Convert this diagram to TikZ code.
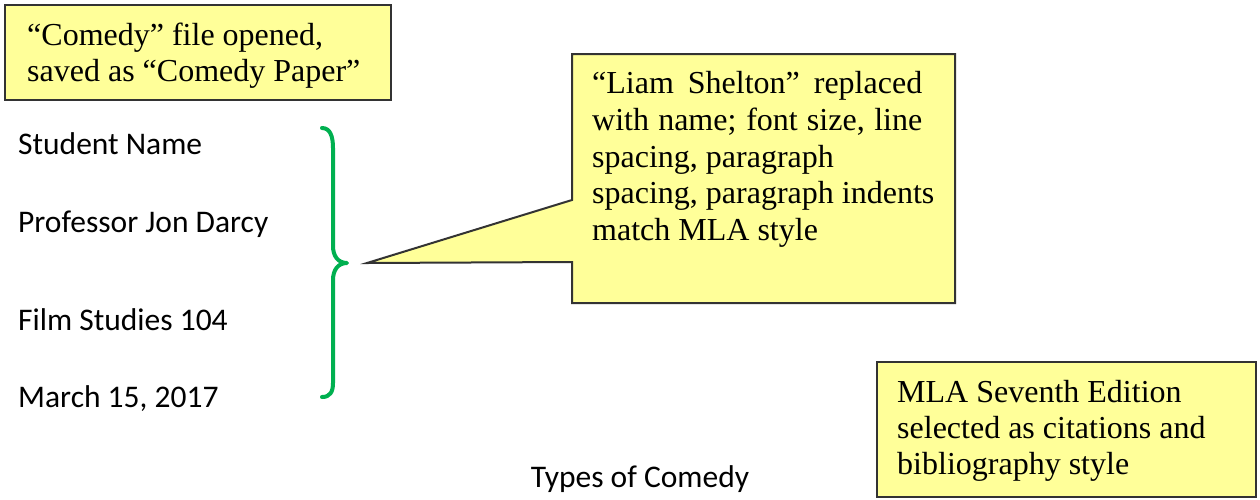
\documentclass[tikz,border=0pt]{standalone}
\usepackage{fontspec}
\setmainfont{Liberation Serif}
\newfontfamily\calib{Carlito}
\definecolor{noteyellow}{HTML}{FFFF99}
\definecolor{bracegreen}{HTML}{00B050}
\begin{document}
\begin{tikzpicture}[x=1pt,y=-1pt,
  notebox/.style={draw=black!80,fill=noteyellow,line width=2pt},
  serifline/.style={font=\fontsize{32}{36}\selectfont,anchor=base west,inner sep=0pt},
  sansline/.style={font=\calib\fontsize{31.5}{36}\selectfont,anchor=base west,inner sep=0pt}]
\useasboundingbox (0,0) rectangle (1260,499);
\fill[white] (0,0) rectangle (1260,499);

% box 1
\node[notebox,minimum width=386pt,minimum height=95pt,inner sep=0pt] (box1) at (198,52.5) {};
\node[serifline] (b1l1) at (27,45.5) {“Comedy” file opened,};
\node[serifline] (b1l2) at (27,81) {saved as “Comedy Paper”};

% left texts
\node[sansline] (name) at (18,154) {Student Name};
\node[sansline] (prof) at (18,232) {Professor Jon Darcy};
\node[sansline] (film) at (18,330) {Film Studies 104};
\node[sansline] (date) at (18,407) {March 15, 2017};
\node[font=\calib\fontsize{31.5}{36}\selectfont,anchor=base,inner sep=0pt] (title) at (640,487) {Types of Comedy};

% brace
\coordinate (bracetop) at (322,128);
\coordinate (bracetip) at (347,263);
\coordinate (bracebot) at (322,397);
\draw[bracegreen,line width=4pt,line cap=round,line join=round]
  (bracetop) .. controls (330,128) and (333,136) .. (333,148) -- (333,246)
  .. controls (333,256) and (338,263) .. (bracetip)
  .. controls (338,263) and (333,270) .. (333,280) -- (333,383)
  .. controls (333,392) and (330,397) .. (bracebot);

% callout
\coordinate (tip) at (367,263);
\draw[notebox,line join=miter] (572,54) -- (955,54) -- (955,303) -- (572,303) -- (572,262) -- (tip) -- (572,200) -- cycle;
\node[serifline] (c1) at (592,93) {\makebox[330pt][s]{“Liam Shelton” replaced}};
\node[serifline] (c2) at (592,130) {\makebox[330pt][s]{with name; font size, line}};
\node[serifline] (c3) at (592,167) {spacing, paragraph};
\node[serifline] (c4) at (592,203) {spacing, paragraph indents};
\node[serifline] (c5) at (592,240) {match MLA style};

% box 3
\node[notebox,minimum width=379pt,minimum height=135pt,inner sep=0pt] (box3) at (1066.5,429.5) {};
\node[serifline] (b3l1) at (897,402) {MLA Seventh Edition};
\node[serifline] (b3l2) at (897,438) {selected as citations and};
\node[serifline] (b3l3) at (897,474) {bibliography style};
\end{tikzpicture}
\end{document}
